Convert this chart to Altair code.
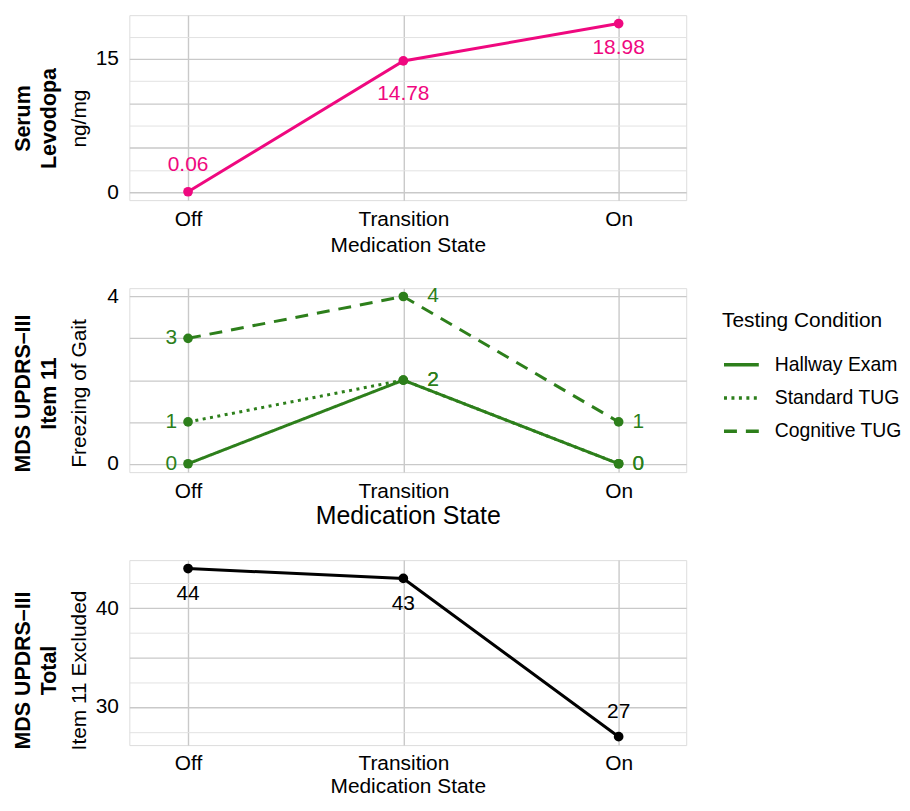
import altair as alt
import pandas as pd

# ---------------- data ----------------
states = ["Off", "Transition", "On"]
levodopa = [0.06, 14.78, 18.98]
conditions = ["Hallway Exam", "Standard TUG", "Cognitive TUG"]
hallway = [0, 2, 0]
standard_tug = [1, 2, 0]
cognitive_tug = [3, 4, 1]
updrs_total = [44, 43, 27]

p1_title = ["Serum", "Levodopa", "ng/mg"]
p2_title = ["MDS UPDRS\u2013III", "Item 11", "Freezing of Gait"]
p3_title = ["MDS UPDRS\u2013III", "Total", "Item 11 Excluded"]
x_title = "Medication State"
legend_title = "Testing Condition"

p1_grid = [0, 2.5, 5, 7.5, 10, 12.5, 15, 17.5]
p2_grid = [0, 1, 2, 3, 4]
p3_grid = [27.5, 30, 32.5, 35, 37.5, 40, 42.5]

# ---------------- styling ----------------
FONT = "Liberation Sans"
PINK = "#EF087F"
GREEN = "#2D7F1B"
W = 560
MAJOR = "#c9c9c9"
MINOR = "#e2e2e2"

df1 = pd.DataFrame({"state": states, "value": levodopa})
rows = []
for cond, vals in zip(conditions, [hallway, standard_tug, cognitive_tug]):
    for s, v in zip(states, vals):
        rows.append({"state": s, "cond": cond, "value": v})
df2 = pd.DataFrame(rows)
df3 = pd.DataFrame({"state": states, "value": updrs_total})


def xenc(title_size, label_pad, title_pad):
    return alt.X(
        "state:N",
        scale=alt.Scale(domain=states, padding=0.2933, align=0.465),
        axis=alt.Axis(
            title=x_title, titleFont=FONT, titleFontSize=title_size,
            titleFontWeight="normal", titleColor="black", titlePadding=title_pad,
            labelFont=FONT, labelFontSize=21, labelColor="black", labelPadding=label_pad,
            labelAngle=0, ticks=False, domain=False, grid=True,
            gridColor=MAJOR, gridWidth=1.4,
        ),
    )


def yenc(domain, values, shown, major_test):
    expr = " || ".join(f"datum.value === {v}" for v in shown)
    return alt.Y(
        "value:Q",
        scale=alt.Scale(domain=domain, nice=False, zero=False),
        axis=alt.Axis(
            title=None, values=values, labelExpr=f"({expr}) ? datum.label : ''",
            labelOverlap=False, labelFont=FONT, labelFontSize=21, labelColor="black",
            labelPadding=11, ticks=False, domain=False,
            gridColor={"condition": {"test": major_test, "value": MAJOR}, "value": MINOR},
            gridWidth={"condition": {"test": major_test, "value": 1.4}, "value": 1.0},
        ),
    )


def titles(lines, yc, xs):
    out = []
    for i, (t, x) in enumerate(zip(lines, xs)):
        out.append(
            alt.Chart(pd.DataFrame({"t": [t]}))
            .mark_text(angle=270, font=FONT, fontSize=21.5 if i < 2 else 21,
                       fontWeight="bold" if i < 2 else "normal",
                       color="black", align="center", baseline="middle")
            .encode(text="t:N", x=alt.value(x), y=alt.value(yc))
        )
    return out


# ---------------- panel 1 ----------------
x1 = xenc(21, 9, 5)
y1 = yenc([-0.886, 19.926], p1_grid, [0, 15], "datum.value % 5 === 0")
base1 = alt.Chart(df1).encode(x=x1, y=y1)
line1 = base1.mark_line(color=PINK, strokeWidth=3)
pts1 = base1.mark_circle(color=PINK, size=95, opacity=1)
lab_style = dict(font=FONT, fontSize=21, color=PINK, align="center", baseline="middle")
l1a = base1.transform_filter(alt.datum.state == "Off").mark_text(dy=-27, **lab_style).encode(
    text=alt.Text("value:Q", format=".2f"))
l1b = base1.transform_filter(alt.datum.state == "Transition").mark_text(dy=33, **lab_style).encode(
    text=alt.Text("value:Q", format=".2f"))
l1c = base1.transform_filter(alt.datum.state == "On").mark_text(dy=25, **lab_style).encode(
    text=alt.Text("value:Q", format=".2f"))
p1 = alt.layer(line1, pts1, l1a, l1b, l1c, *titles(p1_title, 104, [-106, -80, -50])).properties(
    width=W, height=186)

# ---------------- panel 2 ----------------
x2 = xenc(25, 9, 2)
y2 = yenc([-0.2, 4.2], p2_grid, [0, 4], "true")
base2 = alt.Chart(df2).encode(x=x2, y=y2)
line2 = base2.mark_line(color=GREEN, strokeWidth=3).encode(
    strokeDash=alt.StrokeDash(
        "cond:N",
        scale=alt.Scale(domain=conditions, range=[[1, 0], [3, 4.5], [13, 9]]),
        legend=alt.Legend(
            title=legend_title, orient="none", legendX=596, legendY=297, padding=0,
            titleFont=FONT, titleFontSize=21, titleFontWeight="normal", titleColor="black",
            titlePadding=14, labelFont=FONT, labelFontSize=19.5, labelColor="black",
            labelOffset=14, labelLimit=400, symbolType="stroke", symbolSize=1225,
            symbolStrokeWidth=3.5, symbolStrokeColor=GREEN, rowPadding=4.5,
        ),
    ),
    detail="cond:N",
)
pts2 = base2.mark_circle(color=GREEN, size=95, opacity=1)
lab2 = dict(font=FONT, fontSize=21, color=GREEN, baseline="middle")
l2a = base2.transform_filter(alt.datum.state == "Off").mark_text(align="right", dx=-11, **lab2).encode(
    text=alt.Text("value:Q", format="d"))
l2b = base2.transform_filter(alt.datum.state == "Transition").mark_text(align="left", dx=24, **lab2).encode(
    text=alt.Text("value:Q", format="d"))
l2c = base2.transform_filter(alt.datum.state == "On").mark_text(align="left", dx=14, **lab2).encode(
    text=alt.Text("value:Q", format="d"))
p2 = alt.layer(line2, pts2, l2a, l2b, l2c, *titles(p2_title, 106, [-106, -80, -50])).properties(
    width=W, height=185)

# ---------------- panel 3 ----------------
x3 = xenc(21, 8, 2)
y3 = yenc([26.15, 44.85], p3_grid, [30, 40], "datum.value % 5 === 0")
base3 = alt.Chart(df3).encode(x=x3, y=y3)
line3 = base3.mark_line(color="black", strokeWidth=3)
pts3 = base3.mark_circle(color="black", size=95, opacity=1)
lab3 = dict(font=FONT, fontSize=21, color="black", align="center", baseline="middle")
l3a = base3.transform_filter(alt.datum.state != "On").mark_text(dy=26, **lab3).encode(
    text=alt.Text("value:Q", format="d"))
l3b = base3.transform_filter(alt.datum.state == "On").mark_text(dy=-25, **lab3).encode(
    text=alt.Text("value:Q", format="d"))
p3 = alt.layer(line3, pts3, l3a, l3b, *titles(p3_title, 111, [-106, -80, -50])).properties(
    width=W, height=186)

chart = (
    alt.vconcat(p1, p2, p3, spacing=88.5, bounds="flush")
    .properties(padding={"left": 4, "top": 4, "right": 0, "bottom": 0})
    .configure_view(stroke=None)
    .configure(font=FONT)
)

chart.save("out.html", embed_options={"renderer": "svg", "actions": False})
